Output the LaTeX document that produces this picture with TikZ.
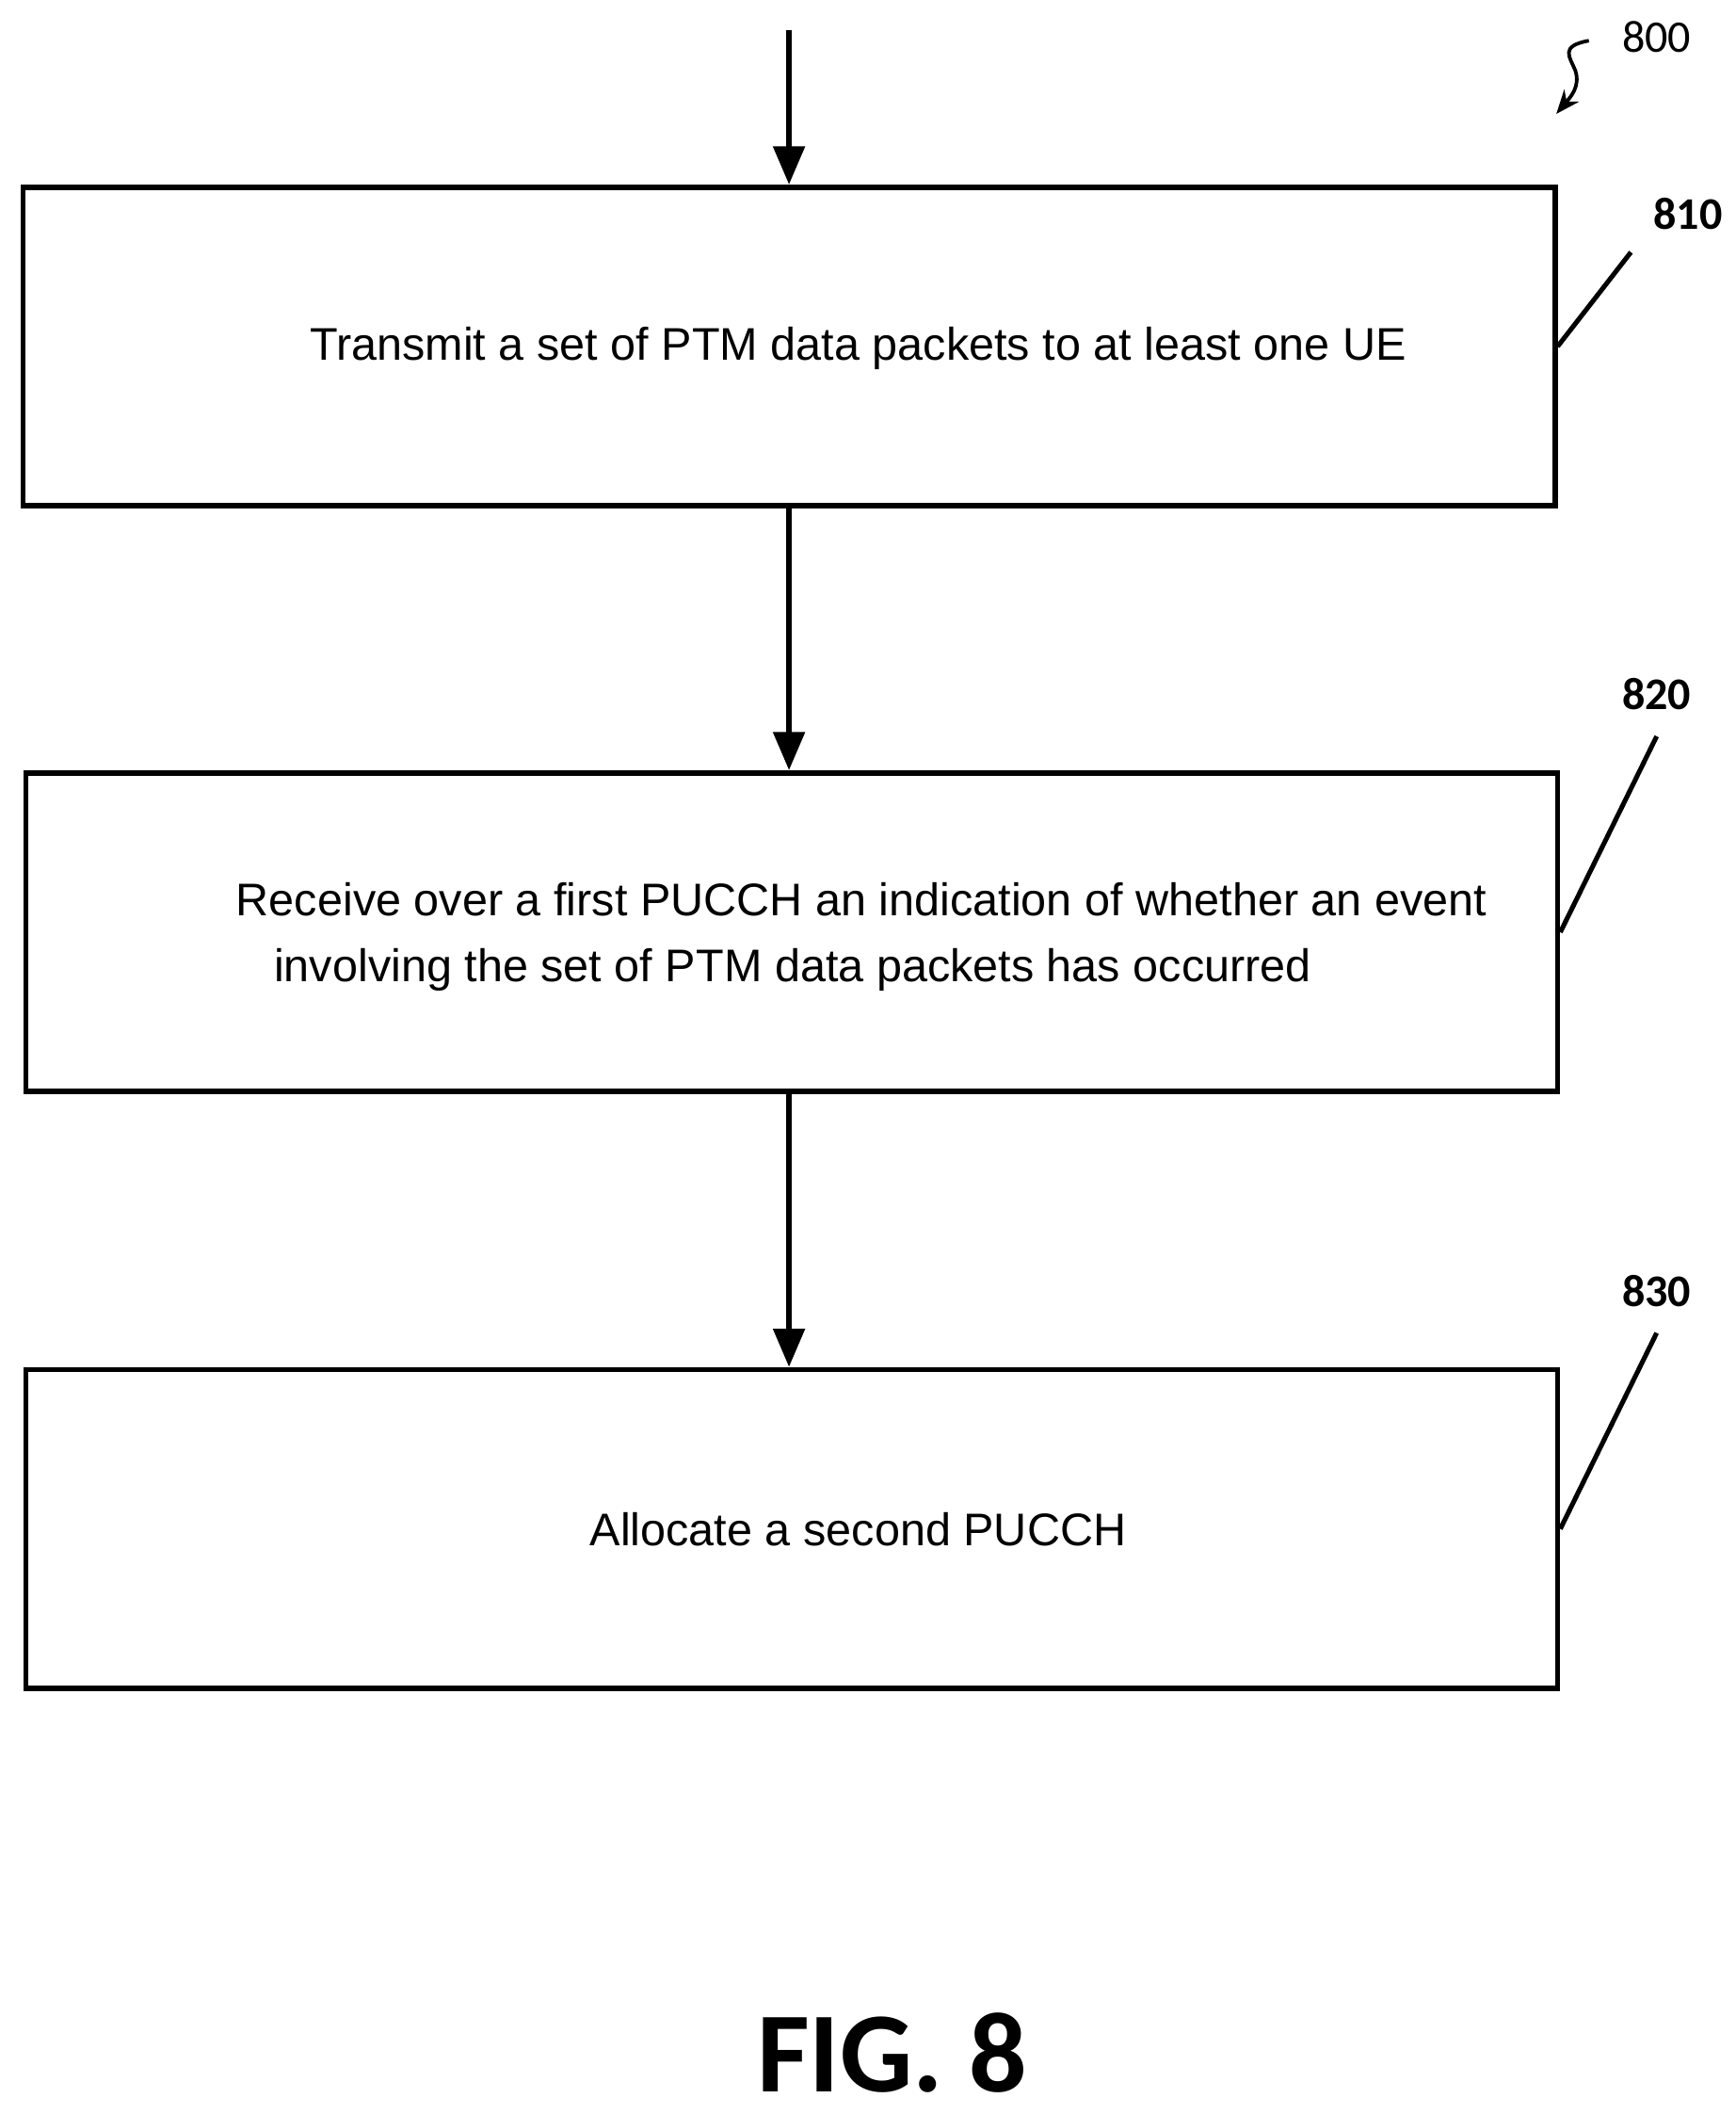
\documentclass[tikz,border=0pt]{standalone}
\usepackage{fontspec}
\setmainfont{Liberation Sans}
\newfontfamily\lab{Carlito}
\usetikzlibrary{arrows.meta}
\begin{document}
\begin{tikzpicture}[x=0.02cm,y=-0.02cm,
  box/.style={draw,line width=2.2pt,minimum width=1130*0.02cm,minimum height=235*0.02cm,inner sep=0pt},
  txt/.style={font=\fontsize{19.2}{26}\selectfont},
  arr/.style={line width=2.2pt,-{Triangle[length=16pt,width=13pt]}},
  lead/.style={line width=2pt},
  num/.style={font=\lab\bfseries\fontsize{19}{24}\selectfont}]
\useasboundingbox (0,0) rectangle (1280,1559);
\node[box] (b1) at (582,255.5) {};
\node[box] (b2) at (584,687.5) {};
\node[box] (b3) at (584,1127.5) {};
\node[txt] (t1) at (633,257) {Transmit a set of PTM data packets to at least one UE};
\node[txt,anchor=west] (t2a) at (168,663) {Receive over a first PUCCH an indication of whether an event};
\node[txt,anchor=west] (t2b) at (196,715) {involving the set of PTM data packets has occurred};
\node[txt] (t3) at (633,1128) {Allocate a second PUCCH};
\coordinate (top) at (582,22);
\draw[arr] (top) -- (b1.north);
\draw[arr] (b1.south) -- (582,568);
\draw[arr] (582,805) -- (b3.north -| 582,0);
\node[num] (n810) at (1245,158) {810};
\node[num] (n820) at (1222,512) {820};
\node[num] (n830) at (1222,952) {830};
\coordinate (c1) at (1203,186); \coordinate (c2) at (1222,543); \coordinate (c3) at (1222,983);
\draw[lead] (b1.east) -- (c1);
\draw[lead] (b2.east) -- (c2);
\draw[lead] (b3.east) -- (c3);
\node[font=\lab\fontsize{19}{24}\selectfont] (n800) at (1222,27) {800};
\draw[line width=1.5pt,-{Stealth[length=10pt,width=8pt]}] (1172,30) .. controls (1150,34) and (1158,42) .. (1162,52) .. controls (1166,64) and (1158,72) .. (1148,84);
\node[font=\lab\bfseries\fontsize{48}{56}\selectfont] (fig) at (658,1514) {FIG. 8};
\end{tikzpicture}
\end{document}
